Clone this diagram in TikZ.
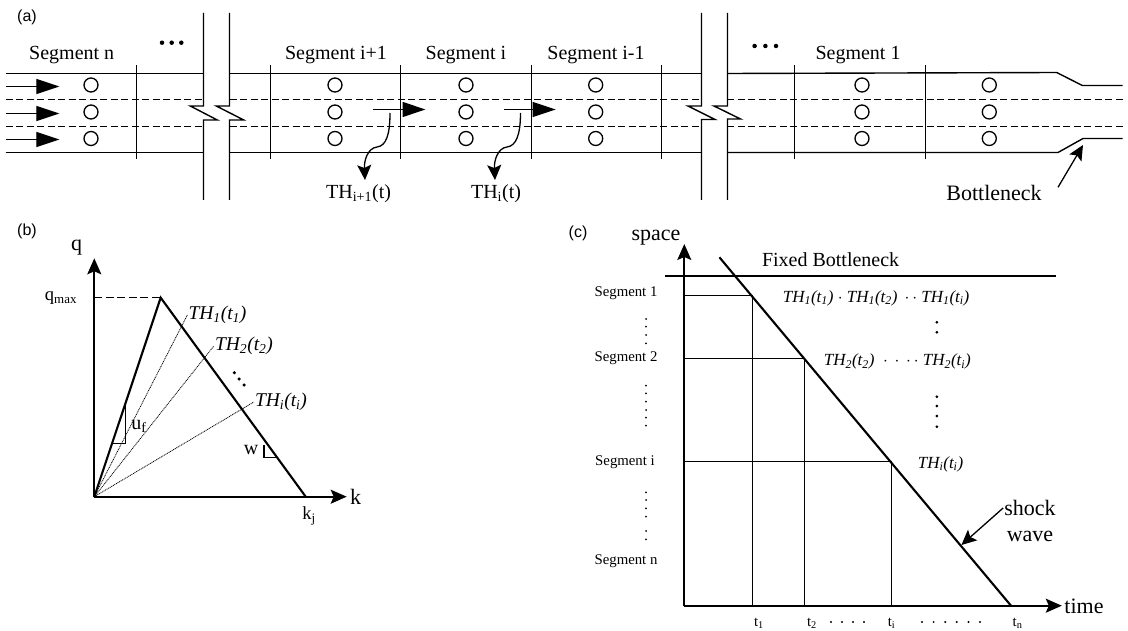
\documentclass[tikz,border=0pt]{standalone}
\usepackage{fontspec}
\setmainfont{Liberation Serif}
\newfontfamily\panelfont{Liberation Sans}
\usetikzlibrary{arrows.meta}
\newcommand{\THt}[2]{\textit{TH\textsubscript{#1}(t\textsubscript{#2})}}

\begin{document}
\begin{tikzpicture}[
        x=1pt, y=-1pt,
        road/.style={line width=1.4pt},
        lane/.style={line width=1.3pt, dash pattern=on 7pt off 3.5pt},
        gap/.style={line width=1.4pt},
        tick/.style={line width=1.3pt},
        detector/.style={circle, draw, line width=1.3pt, minimum size=14pt, inner sep=0pt},
        flow/.style={-{Triangle[length=23pt, width=15pt]}, line width=1.3pt},
        curly/.style={-{Stealth[length=15pt, width=14pt, inset=3pt]}, line width=1.3pt},
        axis/.style={-{Stealth[length=16pt, width=14pt, inset=3pt]}, line width=1.7pt},
        heavy/.style={line width=2.1pt},
        thin line/.style={line width=1pt},
        ray/.style={line width=0.8pt, dash pattern=on 1pt off 0.8pt},
        seg/.style={font=\fontsize{20}{21}\selectfont, inner sep=1pt},
        small/.style={font=\fontsize{14.8}{15}\selectfont, inner sep=1pt},
        lab/.style={font=\fontsize{22}{23}\selectfont, inner sep=1pt},
        th/.style={font=\fontsize{19.5}{20}\selectfont, inner sep=1pt},
        throw/.style={font=\fontsize{17}{18}\selectfont, inner sep=1pt},
        panel/.style={font=\panelfont\fontsize{16}{17}\selectfont, inner sep=1pt},
        dotmark/.style={circle, fill, inner sep=0pt, minimum size=#1}
    ]
    \useasboundingbox (0,0) rectangle (1128,631);

    % Panel (a): road
    \foreach \y in {73.5,152.5} {
        \draw[road] (5.7,\y) -- (203.7,\y);
        \draw[road] (229.7,\y) -- (701,\y);
    }
    \draw[road] (727,73.5) -- (1056.7,72.5) -- (1082.3,85.5) -- (1122.7,85.5);
    \draw[road] (727,152.5) -- (1058,152.5) -- (1083,138.5) -- (1122.7,138.5);
    \foreach \y in {99.5,126.5} {
        \draw[lane] (5.7,\y) -- (203.7,\y);
        \draw[lane] (229.7,\y) -- (701,\y);
        \draw[lane] (727,\y) -- (1122.7,\y);
    }

    % Segment boundaries
    \foreach \x in {136.5,270.5,400.5,531.5,661.5,794.5,925.5} {
        \draw[tick] (\x,65.5) -- (\x,159.5);
    }

    % Breaks
    \draw[gap] (203.5,13) -- (203.5,106) -- (190.3,106) -- (217.3,120) -- (203.5,120) -- (203.5,200);
    \draw[gap] (229.5,13) -- (229.5,106) -- (216.3,106) -- (243.7,120) -- (229.5,120) -- (229.5,200);
    \draw[gap] (701.5,13) -- (701.5,106) -- (688,106) -- (715,119.5) -- (701.5,119.5) -- (701.5,200);
    \draw[gap] (727.5,13) -- (727.5,106) -- (714,106) -- (740.5,119) -- (727.5,119) -- (727.5,200);

    % Detectors
    \foreach \x in {91,335,466,595.7,862,989.3} {
        \foreach \y in {85,112,138.5} {
            \node[detector] at (\x,\y) {};
        }
    }

    % Flow arrows
    \foreach \y in {86.5,113.5,139.5} {
        \draw[flow] (5.7,\y) -- (59.3,\y);
    }
    \draw[flow] (373.4,109.5) -- (425.5,109.5);
    \draw[flow] (503.6,109.5) -- (555.7,109.5);

    % Labels
    \node[panel] (pa) at (27,17) {(a)};
    \node[seg] (sn) at (71.7,55) {Segment n};
    \node[seg] (si1) at (336,55) {Segment i+1};
    \node[seg] (si) at (466,55) {Segment i};
    \node[seg] (si0) at (596,55) {Segment i-1};
    \node[seg] (s1) at (858,55) {Segment 1};
    \foreach \x in {162,171.7,181.3} {
        \node[dotmark=4.5pt] at (\x,42.7) {};
    }
    \foreach \x in {754.6,765.4,776} {
        \node[dotmark=4.5pt] at (\x,46) {};
    }

    \node[seg] (thnext) at (358.6,194) {TH\textsubscript{i+1}(t)};
    \node[seg] (thcur) at (496,194) {TH\textsubscript{i}(t)};
    \coordinate (tapnext) at (390,113);
    \coordinate (tapcur) at (520.5,113);
    \draw[curly] (tapnext) .. controls (390,135) and (386,146) .. (377,147) .. controls (368,148) and (364,160) .. (365,180);
    \draw[curly] (tapcur) .. controls (520.5,135) and (516,146) .. (507,147) .. controls (498,148) and (494,160) .. (495,180);

    \node[lab] (neck) at (994,193) {Bottleneck};
    \coordinate (neckend) at (1083,145);
    \coordinate (neckfrom) at (1058,187.3);
    \draw[curly] (neckfrom) -- (neckend);

    % Panel (b): fundamental diagram
    \node[panel] (pb) at (27,231) {(b)};
    \coordinate (o) at (94.3,496.7);
    \coordinate (qtip) at (94.3,258.3);
    \coordinate (ktip) at (346.7,496.7);
    \coordinate (qm) at (94.3,297.7);
    \coordinate (apex) at (160.7,297.7);
    \coordinate (kj) at (305.7,496.7);
    \draw[axis] (o) -- (qtip);
    \draw[axis] (o) -- (ktip);
    \draw[line width=1.3pt, dash pattern=on 8pt off 3.5pt] (qm) -- (apex);
    \draw[heavy] (o) -- (apex) -- (kj);
    \node[th] (th1) at (217.5,315) {\THt{1}{1}};
    \node[th] (th2) at (244,346) {\THt{2}{2}};
    \node[th] (thi) at (281,402) {\THt{i}{i}};
    \foreach \j in {th1,th2,thi} {
        \draw[ray] (o) -- (\j.west);
    }
    \foreach \x/\y in {234.3/372.7,239/379,244/385} {
        \node[dotmark=3.5pt] at (\x,\y) {};
    }
    \draw[road] (125.7,403.3) -- (125.7,443.3) -- (111.7,443.3);
    \draw[road] (264,445) -- (264,457.7) -- (276.7,457.7);

    \node[lab] (qlab) at (76.7,248) {q};
    \node[small, font=\fontsize{18.5}{19}\selectfont] (qmax) at (61,298) {q\textsubscript{max}};
    \node[seg] (uf) at (139,426.5) {u\textsubscript{f}};
    \node[seg] (wlab) at (251,450) {w};
    \node[lab] (klab) at (355.5,497) {k};
    \node[small, font=\fontsize{18.5}{19}\selectfont] (kjlab) at (309,516) {k\textsubscript{j}};

    % Panel (c): time-space diagram
    \node[panel] (pc) at (578,233) {(c)};
    \coordinate (org) at (684.3,605.7);
    \coordinate (stip) at (684.3,244);
    \coordinate (ttip) at (1061.8,605.7);
    \draw[axis] (org) -- (stip);
    \draw[axis] (org) -- (ttip);
    \draw[heavy] (665,276) -- (1056.4,276);
    \draw[heavy] (719.4,257.3) -- (1011,605.7);
    \foreach \x/\y in {752/296,804.6/358.3,891/461} {
        \draw[thin line] (684.3,\y) -- (\x,\y) -- (\x,605.7);
    }

    \node[lab] (space) at (656,238) {space};
    \node[lab] (timelab) at (1084,606) {time};
    \node[seg] (fixed) at (830.6,260) {Fixed Bottleneck};
    \node[small] (sg1) at (626,292.7) {Segment 1};
    \node[small] (sg2) at (626,358.3) {Segment 2};
    \node[small] (sgi) at (625,462.3) {Segment i};
    \node[small] (sgn) at (626,560.7) {Segment n};
    \foreach \y in {319,326.7,335,343.3,385.7,393.3,401.7,410,417.7,425.7,492.3,500,508.3,516.7,531,539.3} {
        \node[dotmark=2pt] at (646,\y) {};
    }
    \foreach \y in {322.3,332.3,396.7,406,416,426.7} {
        \node[dotmark=3pt] at (936.8,\y) {};
    }
    \node[throw, anchor=west] (row1) at (781.7,298.3) {\THt{1}{1} $\cdot$ \THt{1}{2}\ \,$\cdot\,\cdot$ \THt{1}{i}};
    \node[throw, anchor=west] (row2) at (822.7,361.7) {\THt{2}{2}\ \ $\cdot\,\cdot\,\cdot\,\cdot$ \THt{2}{i}};
    \node[throw] (rowi) at (940.5,464) {\THt{i}{i}};

    \node[lab] (shock) at (1030,508) {shock};
    \node[lab] (wave) at (1030,536.7) {wave};
    \coordinate (hit) at (961.4,545);
    \draw[curly] (shock.west) -- (hit);

    \node[small] (t1) at (759,623) {t\textsubscript{1}};
    \node[small] (t2) at (812,623) {t\textsubscript{2}};
    \node[small] (ti) at (891.5,623) {t\textsubscript{i}};
    \node[small] (tn) at (1017.6,623) {t\textsubscript{n}};
    \foreach \x in {831,842,853,864,922,933.6,945.2,956.8,968.4,980} {
        \node[dotmark=2.2pt] at (\x,622) {};
    }
\end{tikzpicture}
\end{document}
